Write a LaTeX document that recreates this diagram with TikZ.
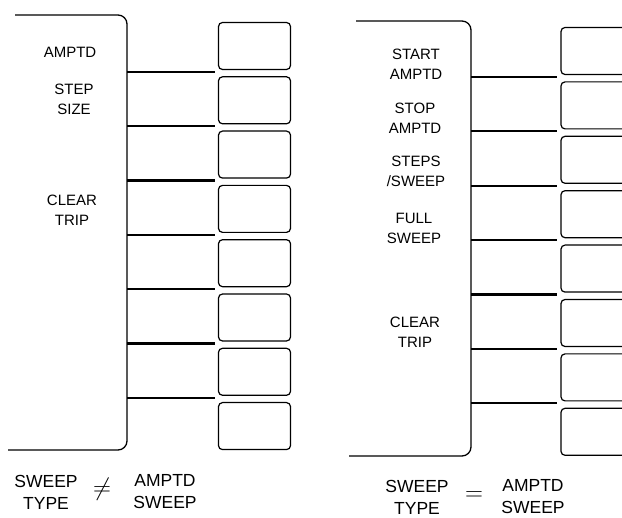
\documentclass[tikz,border=0pt]{standalone}
\usepackage{fontspec}
\setmainfont{Liberation Sans}
\usetikzlibrary{positioning}

\begin{document}
\begin{tikzpicture}[
  x=1pt, y=-1pt,
  panel/.style={line width=1.3pt, rounded corners=9pt},
  key/.style={rectangle, draw, line width=1.2pt, rounded corners=4pt, minimum height=47pt, inner sep=0pt},
  div/.style={line width=2.2pt},
  lbl/.style={align=center, font=\fontsize{15}{20}\selectfont},
  cond/.style={align=center, inner sep=1pt, font=\fontsize{17.5}{22}\selectfont},
  rel/.style={inner sep=1pt, font=\fontsize{26}{26}\selectfont}
]
\clip (0,0) rectangle (622,518);

% left screen: sweep type is not amptd sweep
\draw[panel] (15,15) -| (127,450) -- (8,450);
\foreach \i in {1,...,8}
  \node[key, minimum width=72pt] (lk\i) at (254.5, {46+54.3*(\i-1)}) {};
\foreach \i [count=\j from 2] in {1,...,7} {
  \coordinate (la\i) at (127, {72+54.3*(\i-1)});
  \draw[div, shorten >=3pt] (la\i) -- (la\i -| lk\j.west);
}
\node[lbl] (amp) at (70,52)  {AMPTD};
\node[lbl] (stp) at (74,99)  {STEP\\SIZE};
\node[lbl] (clr) at (72,210) {CLEAR\\TRIP};

\node[cond] (lty) at (46,492)  {SWEEP\\TYPE};
\node[rel]  (lne) at (102,489) {$\neq$};
\node[cond] (lsw) at (165,492) {AMPTD\\SWEEP};

% right screen: sweep type is amptd sweep
\draw[panel] (356,21) -| (471,456) -- (349,456);
\foreach \i in {1,...,8}
  \node[key, minimum width=90pt] (rk\i) at (606, {51+54.4*(\i-1)}) {};
\foreach \i [count=\j from 2] in {1,...,7} {
  \coordinate (ra\i) at (471, {77+54.4*(\i-1)});
  \draw[div, shorten >=3pt] (ra\i) -- (ra\i -| rk\j.west);
}
\node[lbl] (sta) at (416,64)  {START\\AMPTD};
\node[lbl] (spa) at (415,118) {STOP\\AMPTD};
\node[lbl] (sps) at (416,171) {STEPS\\/SWEEP};
\node[lbl] (fsw) at (414,228) {FULL\\SWEEP};
\node[lbl] (rcl) at (415,332) {CLEAR\\TRIP};

\node[cond] (rty) at (417,497) {SWEEP\\TYPE};
\node[rel]  (req) at (474,496) {$=$};
\node[cond] (rsw) at (533,497) {AMPTD\\SWEEP};
\end{tikzpicture}
\end{document}
